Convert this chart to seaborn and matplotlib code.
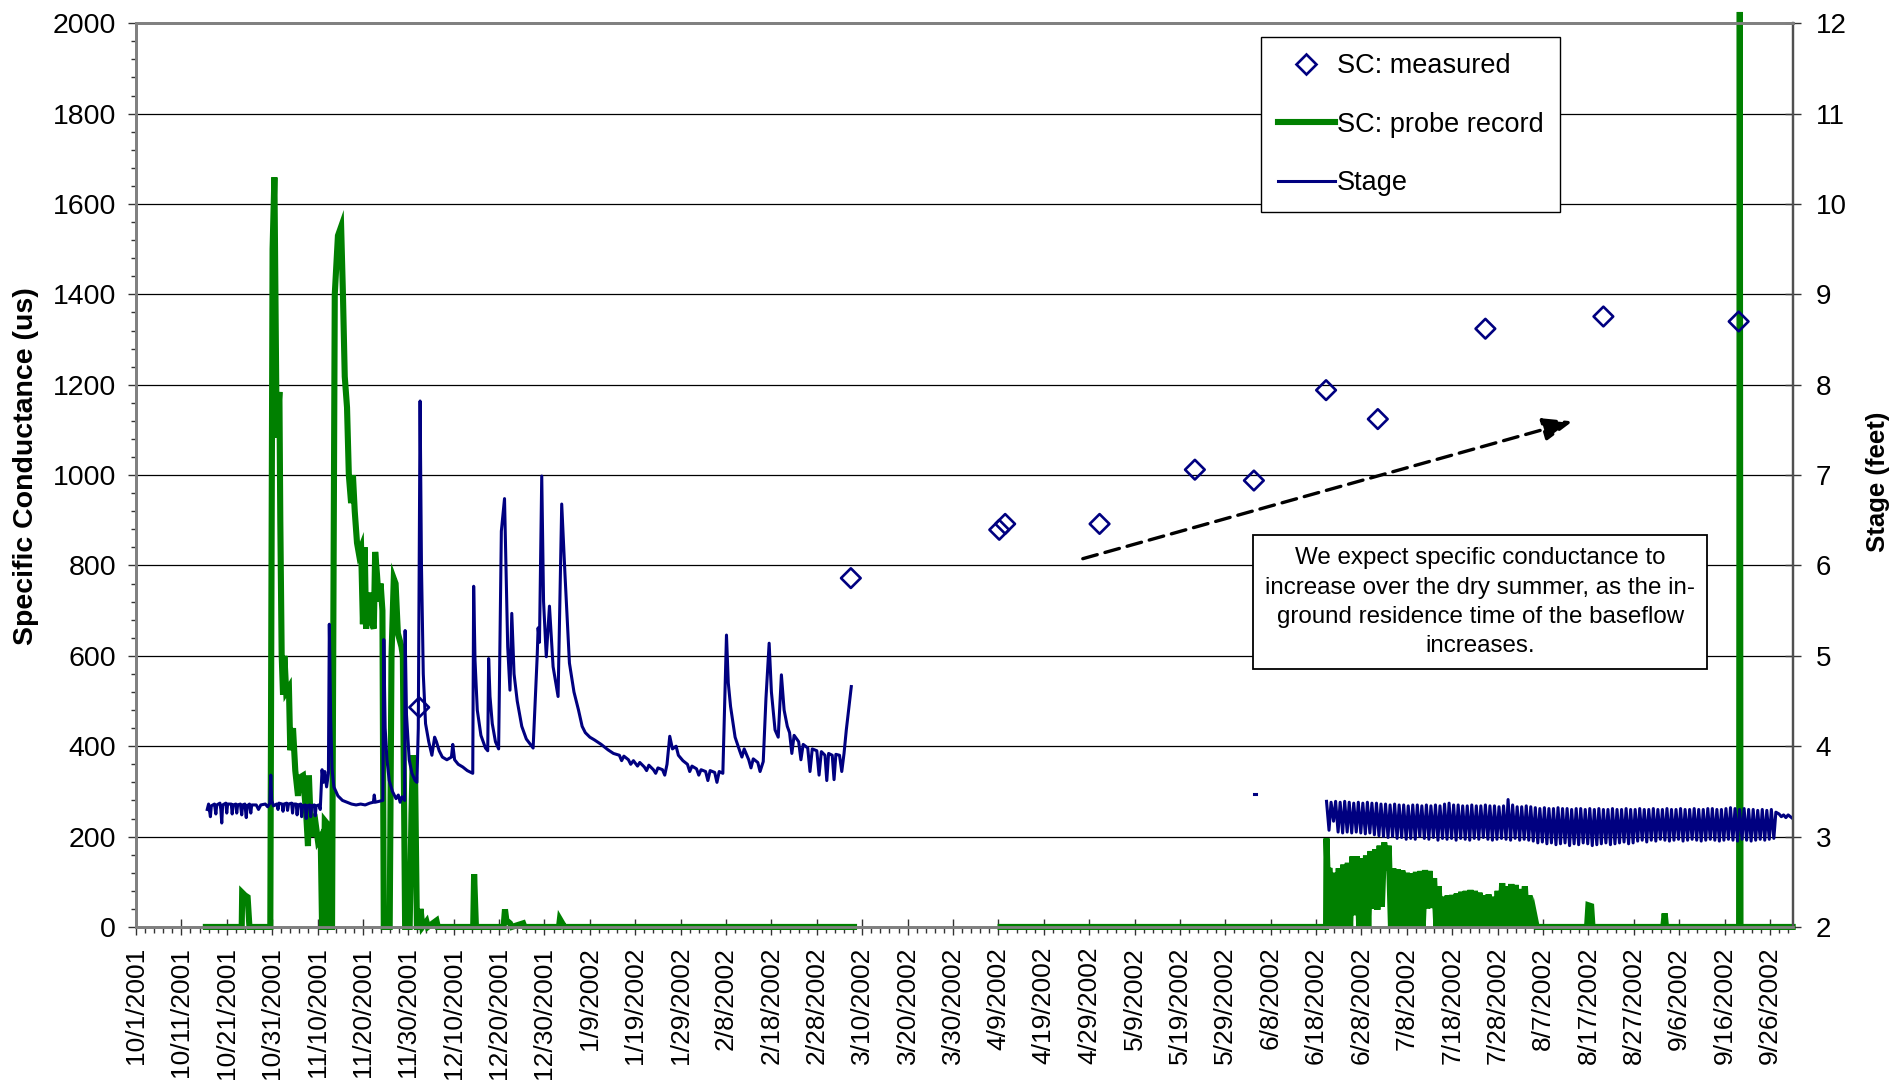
import numpy as np
import pandas as pd
import matplotlib
matplotlib.use("Agg")
import matplotlib.pyplot as plt
import matplotlib.dates as mdates
from matplotlib.lines import Line2D
from matplotlib.ticker import MultipleLocator
import seaborn as sns

# ------------------------------------------------------------------ data
START_DATE = "2001-10-01"          # day 0 of the record

x_tick_labels = [
    "10/1/2001", "10/11/2001", "10/21/2001", "10/31/2001", "11/10/2001",
    "11/20/2001", "11/30/2001", "12/10/2001", "12/20/2001", "12/30/2001",
    "1/9/2002", "1/19/2002", "1/29/2002", "2/8/2002", "2/18/2002",
    "2/28/2002", "3/10/2002", "3/20/2002", "3/30/2002", "4/9/2002",
    "4/19/2002", "4/29/2002", "5/9/2002", "5/19/2002", "5/29/2002",
    "6/8/2002", "6/18/2002", "6/28/2002", "7/8/2002", "7/18/2002",
    "7/28/2002", "8/7/2002", "8/17/2002", "8/27/2002", "9/6/2002",
    "9/16/2002", "9/26/2002",
]

# measured specific conductance (day offset, uS)
meas_days = [62.4, 157.5, 190.2, 191.5, 212.3, 233.3, 246.3, 262.2, 273.6, 297.3, 323.3, 353.1]
meas_sc = [486, 772, 879, 892, 892, 1012, 988, 1188, 1124, 1324, 1351, 1340]

# SC probe record - autumn/winter part (day, uS)
probe_winter = [
    (15.4, 0), (23.3, 0), (23.4, 76), (24.0, 70), (24.6, 66), (25.0, 0),
    (29.6, 0), (30.1, 1500), (30.5, 1659), (30.9, 1200), (31.0, 1083),
    (31.6, 1184), (31.8, 900), (32.1, 603), (32.4, 514), (32.7, 600),
    (33.1, 520), (33.7, 530), (34.0, 391), (34.6, 440), (35.1, 346),
    (35.7, 290), (36.0, 330), (36.8, 335), (37.5, 250), (37.9, 179),
    (38.1, 335), (38.6, 200), (39.3, 250), (40.1, 190), (40.7, 200),
    (41.0, 0), (41.3, 0), (41.6, 235), (42.0, 230), (42.2, 0), (43.2, 0),
    (43.8, 1400), (44.5, 1530), (45.2, 1550), (45.6, 1400), (46.0, 1218),
    (46.5, 1150), (46.9, 1000), (47.4, 938), (47.8, 1000), (48.2, 920),
    (48.7, 850), (49.1, 827), (49.6, 840), (50.0, 670), (50.4, 840),
    (50.7, 660), (51.5, 740), (51.8, 680), (52.4, 660), (52.7, 830),
    (53.1, 780), (53.5, 720), (53.9, 760), (54.3, 700), (54.6, 0),
    (55.9, 0), (56.3, 600), (56.8, 771), (57.2, 760), (57.7, 650),
    (58.5, 620), (58.8, 600), (59.3, 0), (60.3, 0), (60.7, 250),
    (61.0, 380), (61.5, 330), (61.9, 0), (62.5, 0), (62.7, 40), (63.1, 0),
    (64.0, 12), (64.3, 0), (66.2, 14), (66.5, 0), (74.3, 0), (74.5, 117),
    (74.9, 0), (81.0, 0), (81.3, 39), (81.6, 15), (82.4, 8), (82.8, 0),
    (85.3, 8), (85.6, 0), (93.2, 0), (93.4, 17), (94.1, 5), (94.4, 0),
    (158.2, 0),
]

# SC probe record - spring/summer part
probe_spring = [(190.5, 0), (262.2, 0), (262.3, 196), (262.5, 126)]
probe_daily_days = list(range(263, 308))
probe_daily_hi = [125, 120, 130, 138, 142, 156, 156, 152, 158, 168, 172, 180,
                  187, 180, 130, 128, 125, 120, 119, 122, 124, 126, 124, 108,
                  90, 67, 70, 71, 74, 78, 80, 82, 80, 76, 70, 72, 67, 80, 97,
                  90, 95, 93, 84, 90, 70]
probe_daily_lo = [0, 0, 0, 0, 0, 26, 0, 0, 0, 40, 38, 45,
                  125, 0, 0, 0, 0, 0, 0, 0, 0, 41, 42, 0,
                  0, 0, 0, 0, 0, 0, 0, 0, 0, 0, 0, 0, 0, 0, 0,
                  0, 0, 0, 0, 0, 0]
probe_late = [(308.0, 30), (308.6, 0), (319.7, 0), (320.0, 48), (320.6, 46),
              (320.9, 0), (336.5, 0), (336.8, 30), (337.1, 0), (353.2, 0),
              (353.35, 2025), (353.5, 0), (365.0, 0)]

# stage - autumn/winter part (day, feet)
stage_winter = [
    (15.7, 3.30), (16.0, 3.36), (16.4, 3.22), (16.6, 3.34), (17.3, 3.36),
    (17.6, 3.25), (17.8, 3.35), (18.5, 3.37), (18.7, 3.30), (18.9, 3.15),
    (19.1, 3.35), (19.8, 3.37), (20.0, 3.26), (20.2, 3.36), (21.0, 3.36),
    (21.2, 3.25), (21.4, 3.35), (22.0, 3.36), (22.2, 3.26), (22.4, 3.35),
    (23.0, 3.36), (23.3, 3.24), (23.5, 3.35), (24.0, 3.36), (24.3, 3.21),
    (24.5, 3.34), (25.0, 3.36), (25.3, 3.26), (25.5, 3.35), (26.5, 3.35),
    (27.0, 3.30), (27.5, 3.35), (28.5, 3.36), (29.0, 3.33), (29.5, 3.37),
    (29.7, 3.68), (29.9, 3.40), (30.3, 3.34), (31.0, 3.36), (31.3, 3.30),
    (31.5, 3.37), (32.2, 3.36), (32.4, 3.28), (32.6, 3.36), (33.2, 3.37),
    (33.4, 3.29), (33.6, 3.36), (34.3, 3.37), (34.5, 3.26), (34.7, 3.36),
    (35.3, 3.36), (35.5, 3.24), (35.7, 3.35), (36.3, 3.36), (36.5, 3.22),
    (36.7, 3.34), (37.3, 3.35), (37.5, 3.20), (37.7, 3.34), (38.3, 3.35),
    (38.5, 3.22), (38.7, 3.34), (39.3, 3.35), (39.5, 3.23), (39.7, 3.34),
    (40.3, 3.35), (40.6, 3.30), (41.0, 3.74), (41.3, 3.60), (41.6, 3.72),
    (42.0, 3.55), (42.4, 3.70), (42.6, 5.35), (42.9, 4.30), (43.2, 3.75),
    (43.6, 3.55), (44.5, 3.45), (45.5, 3.40), (46.5, 3.38), (47.5, 3.36),
    (48.5, 3.35), (49.5, 3.36), (50.5, 3.35), (51.5, 3.37), (52.3, 3.38),
    (52.5, 3.46), (52.7, 3.38), (53.5, 3.39), (54.4, 3.40), (54.6, 5.18),
    (54.9, 4.20), (55.3, 3.85), (55.8, 3.62), (56.5, 3.50), (57.3, 3.42),
    (57.8, 3.46), (58.2, 3.38), (58.6, 3.44), (59.2, 3.40), (59.3, 5.28),
    (59.6, 4.35), (60.2, 3.85), (60.8, 3.70), (61.5, 3.62), (61.9, 3.60),
    (62.2, 4.20), (62.6, 7.82), (62.9, 6.00), (63.3, 4.80), (63.8, 4.25),
    (64.5, 4.05), (65.2, 3.90), (65.8, 4.10), (66.2, 4.05), (66.8, 3.95),
    (67.5, 3.88), (68.5, 3.85), (69.5, 3.88), (69.8, 4.02), (70.2, 3.85),
    (71.0, 3.80), (72.0, 3.77), (73.0, 3.73), (74.2, 3.70), (74.4, 5.77),
    (74.7, 4.95), (75.2, 4.40), (76.0, 4.12), (77.0, 3.98), (77.5, 3.95),
    (77.7, 4.97), (78.0, 4.55), (78.5, 4.25), (79.2, 4.05), (79.9, 3.97),
    (80.5, 6.38), (81.2, 6.74), (81.6, 5.77), (81.9, 5.10), (82.4, 4.62),
    (82.8, 5.47), (83.3, 4.80), (84.0, 4.50), (85.0, 4.22), (86.0, 4.08),
    (87.5, 3.98), (88.4, 5.00), (88.6, 5.31), (88.9, 5.15), (89.4, 6.99),
    (89.8, 5.60), (90.4, 4.99), (91.1, 5.55), (91.9, 4.88), (93.0, 4.55),
    (93.8, 6.68), (94.5, 5.92), (95.5, 4.92), (96.5, 4.60), (97.5, 4.40),
    (98.3, 4.22), (99.0, 4.15), (100.0, 4.10), (101.0, 4.07), (102.5, 4.02),
    (104.0, 3.96), (105.2, 3.92), (106.5, 3.90), (107.0, 3.84), (107.5, 3.89),
    (108.5, 3.85), (109.0, 3.80), (109.6, 3.84), (110.5, 3.78), (111.0, 3.82),
    (112.0, 3.77), (112.5, 3.73), (113.0, 3.79), (114.0, 3.74), (114.5, 3.70),
    (115.0, 3.76), (116.0, 3.74), (116.5, 3.68), (117.0, 3.80), (117.6, 4.11),
    (118.2, 3.97), (119.0, 4.00), (119.5, 3.90), (120.5, 3.84), (121.5, 3.80),
    (122.0, 3.72), (122.5, 3.78), (123.5, 3.75), (124.0, 3.68), (124.5, 3.74),
    (125.5, 3.72), (126.0, 3.62), (126.5, 3.73), (127.5, 3.71), (128.0, 3.60),
    (128.5, 3.72), (129.3, 3.70), (130.1, 5.23), (130.5, 4.70), (131.0, 4.44),
    (132.0, 4.10), (133.0, 3.95), (133.5, 3.88), (134.0, 3.97), (135.0, 3.85),
    (135.5, 3.76), (136.0, 3.86), (137.0, 3.82), (137.5, 3.72), (138.2, 3.83),
    (138.8, 4.53), (139.5, 5.14), (140.0, 4.60), (140.8, 4.18), (141.5, 4.10),
    (142.2, 4.79), (142.8, 4.40), (143.5, 4.22), (144.0, 4.15), (144.5, 3.92),
    (145.0, 4.12), (146.0, 4.05), (146.5, 3.85), (147.0, 4.02), (148.0, 3.98),
    (148.5, 3.72), (149.0, 3.97), (150.0, 3.95), (150.5, 3.68), (151.0, 3.94),
    (151.8, 3.90), (152.2, 3.62), (152.6, 3.92), (153.4, 3.90), (153.8, 3.63),
    (154.2, 3.91), (155.0, 3.90), (155.5, 3.72), (156.0, 3.92), (156.5, 4.18),
    (157.0, 4.40), (157.6, 4.66),
]

# isolated stage reading in early June
stage_june = [(246.3, 3.47), (246.7, 3.47)]

# stage - summer part, daily highs and lows starting at day 262.3
stage_summer_start = 262.3
stage_summer_hi = [
    3.39, 3.38, 3.39, 3.38, 3.39, 3.38, 3.37, 3.38, 3.37, 3.38, 3.37, 3.37, 3.36,
    3.36, 3.35, 3.36, 3.35, 3.35, 3.34, 3.35, 3.35, 3.34, 3.35, 3.34, 3.35, 3.34, 3.36,
    3.37, 3.35, 3.35, 3.34, 3.34, 3.35, 3.34, 3.34, 3.35, 3.34, 3.34, 3.33, 3.34, 3.41,
    3.35, 3.33, 3.33, 3.34, 3.33,
    3.32, 3.31, 3.32, 3.31, 3.31, 3.32, 3.31, 3.31, 3.30, 3.31, 3.31, 3.30, 3.31, 3.30,
    3.31, 3.30, 3.30, 3.31, 3.30, 3.30, 3.31, 3.30,
    3.30, 3.31, 3.30, 3.30, 3.31, 3.30, 3.30, 3.31, 3.30, 3.30, 3.31, 3.30, 3.30, 3.31,
    3.30, 3.30, 3.31, 3.31, 3.30, 3.30, 3.31, 3.32, 3.31, 3.30, 3.31, 3.30, 3.30, 3.29,
    3.30, 3.29, 3.30,
]
stage_summer_lo = [
    3.07, 3.17, 3.05, 3.04, 3.05, 3.04, 3.05, 3.04, 3.03, 3.04, 3.02, 3.01, 3.00,
    2.99, 3.00, 2.98, 2.99, 2.97, 2.98, 2.97, 3.00, 2.98, 2.97, 2.99, 2.96, 2.98, 2.97,
    2.98, 2.96, 2.98, 2.97, 2.96, 2.98, 2.97, 2.99, 2.97, 2.96, 2.97, 2.98, 2.97, 2.96,
    2.98, 2.96, 2.97, 2.96, 2.95,
    2.93, 2.94, 2.92, 2.93, 2.91, 2.92, 2.93, 2.90, 2.92, 2.91, 2.93, 2.92, 2.90, 2.91,
    2.92, 2.93, 2.91, 2.92, 2.93, 2.94, 2.92, 2.93,
    2.95, 2.96, 2.94, 2.96, 2.95, 2.97, 2.96, 2.95, 2.96, 2.97, 2.95, 2.96, 2.97, 2.96,
    2.95, 2.96, 2.97, 2.96, 2.95, 2.96, 2.97, 2.96, 2.95, 2.97, 2.96, 2.95, 2.96, 2.97,
    2.96, 2.97, 2.98,
]
stage_tail = [(361.3, 3.27), (362.0, 3.25), (362.5, 3.22), (363.0, 3.24),
              (363.5, 3.21), (364.0, 3.24), (364.5, 3.22), (365.0, 3.20)]

# annotation
arrow_start = (208.6, 815)
arrow_end = (316.5, 1119)
note_pos = (296.2, 719)
note_text = ("We expect specific conductance to\n"
             "increase over the dry summer, as the in-\n"
             "ground residence time of the baseflow\n"
             "increases.")

# ------------------------------------------------------------------ helpers
start = pd.Timestamp(START_DATE)


def to_date(days):
    return start + pd.to_timedelta(np.asarray(days, dtype=float), unit="D")


def num(day):
    return mdates.date2num(start + pd.Timedelta(days=float(day)))


# stage frame
rows = []
for d, v in stage_winter:
    rows.append((d, v, 0))
for d, v in stage_june:
    rows.append((d, v, 1))
for k, (hi, lo) in enumerate(zip(stage_summer_hi, stage_summer_lo)):
    rows.append((stage_summer_start + k, hi, 2))
    rows.append((stage_summer_start + k + 0.55, lo, 2))
for d, v in stage_tail:
    rows.append((d, v, 2))
stage_df = pd.DataFrame(rows, columns=["day", "stage", "seg"])
stage_df["date"] = to_date(stage_df["day"])

# probe frame
rows = []
for d, v in probe_winter:
    rows.append((d, v, 0))
for d, v in probe_spring:
    rows.append((d, v, 1))
for d, hi, lo in zip(probe_daily_days, probe_daily_hi, probe_daily_lo):
    rows.append((d, hi, 1))
    rows.append((d + 0.5, lo, 1))
for d, v in probe_late:
    rows.append((d, v, 1))
probe_df = pd.DataFrame(rows, columns=["day", "sc", "seg"])
probe_df["date"] = to_date(probe_df["day"])

meas_df = pd.DataFrame({"date": to_date(meas_days), "sc": meas_sc})

# ------------------------------------------------------------------ style
plt.rcParams["font.family"] = ["Liberation Sans", "DejaVu Sans"]
plt.rcParams["axes.unicode_minus"] = False

GREEN = "#008000"
NAVY = "#000080"
SPINE = "#808080"
GREEN_LW = 4.4
STAGE_LW = 2.2

fig = plt.figure(figsize=(18.91, 10.82), dpi=100)
ax = fig.add_axes([0.0719, 0.1433, 0.948 - 0.0719, 0.9785 - 0.1433])
ax2 = ax.twinx()
ax.set_facecolor("white")
ax2.patch.set_visible(False)

# ------------------------------------------------------------------ marks
sns.lineplot(data=probe_df, x="date", y="sc", units="seg", estimator=None,
             sort=False, color=GREEN, lw=GREEN_LW, ax=ax, legend=False,
             clip_on=False, zorder=3, solid_joinstyle="miter")
sns.scatterplot(data=meas_df, x="date", y="sc", marker="D", s=100,
                facecolor="none", edgecolor=NAVY, linewidth=1.9, ax=ax,
                zorder=4, legend=False)
sns.lineplot(data=stage_df, x="date", y="stage", units="seg", estimator=None,
             sort=False, color=NAVY, lw=STAGE_LW, ax=ax2, legend=False)

# dashed arrow
ax.annotate("", xy=(num(arrow_end[0]), arrow_end[1]),
            xytext=(num(arrow_start[0]), arrow_start[1]),
            arrowprops=dict(arrowstyle="-|>,head_length=0.9,head_width=0.35",
                            linestyle=(0, (4.5, 2.4)), lw=2.4, color="black",
                            mutation_scale=20, shrinkA=0, shrinkB=0),
            zorder=5)

# note box
ax.text(num(note_pos[0]), note_pos[1], note_text, ha="center", va="center",
        fontsize=17.4, linespacing=1.42, zorder=6,
        bbox=dict(boxstyle="square,pad=0.5", fc="white", ec="black", lw=1.3))

# ------------------------------------------------------------------ axes
ax.set_ylim(0, 2000)
ax2.set_ylim(2, 12)
ax.set_xlim(to_date([0])[0], to_date([365])[0])

tick_dates = pd.to_datetime(x_tick_labels, format="%m/%d/%Y")
ax.set_xticks(tick_dates)
ax.set_xticklabels(x_tick_labels, rotation=90, ha="center", va="top")
ax.set_xticks(to_date(np.arange(0, 366, 2)), minor=True)

ax.yaxis.set_major_locator(MultipleLocator(200))
ax.yaxis.set_minor_locator(MultipleLocator(40))
ax2.yaxis.set_major_locator(MultipleLocator(1))

ax.tick_params(axis="x", which="major", direction="inout", length=11.5,
               width=1.0, pad=8.5, labelsize=19, color="#333333")
ax.tick_params(axis="x", which="minor", direction="out", length=4,
               width=1.0, color="#333333")
ax.tick_params(axis="y", which="major", direction="out", length=5.8,
               width=1.0, pad=8.5, labelsize=20.5, color="#333333")
ax.tick_params(axis="y", which="minor", direction="out", length=3.6,
               width=1.0, color="#333333")
ax2.tick_params(axis="y", which="major", direction="inout", length=12,
                width=1.0, pad=10.4, labelsize=20, color="#333333")

ax.yaxis.grid(True, which="major", color="black", lw=0.9)
ax.xaxis.grid(False)
ax.set_axisbelow(True)

ax.set_xlabel("")
ax2.set_xlabel("")
ax.set_ylabel("Specific Conductance (us)", fontsize=20.5, fontweight="bold",
              labelpad=10)
ax2.set_ylabel("Stage (feet)", fontsize=18.5, fontweight="bold", labelpad=14)
ax.yaxis.label.set_y(0.51)
ax2.yaxis.label.set_y(0.493)

for a in (ax, ax2):
    for name, sp in a.spines.items():
        sp.set_color(SPINE)
        sp.set_linewidth(2.0)
    a.spines["right"].set_color("#505050")
    a.spines["right"].set_linewidth(1.6)

# legend
handles = [
    Line2D([], [], marker="D", linestyle="none", markersize=10,
           markerfacecolor="none", markeredgecolor=NAVY, markeredgewidth=1.9),
    Line2D([], [], color=GREEN, lw=GREEN_LW),
    Line2D([], [], color=NAVY, lw=STAGE_LW),
]
labels = ["SC: measured", "SC: probe record", "Stage"]
leg = ax2.legend(handles, labels, loc="upper center",
                 bbox_to_anchor=(0.7695, 0.985), fontsize=19.5,
                 frameon=True, fancybox=False, edgecolor="black",
                 framealpha=1, borderpad=0.6, labelspacing=1.2,
                 handlelength=2.1, handletextpad=0.1, borderaxespad=0)
leg.get_frame().set_linewidth(1.0)

fig.savefig("out.png", dpi=100, facecolor="white")
